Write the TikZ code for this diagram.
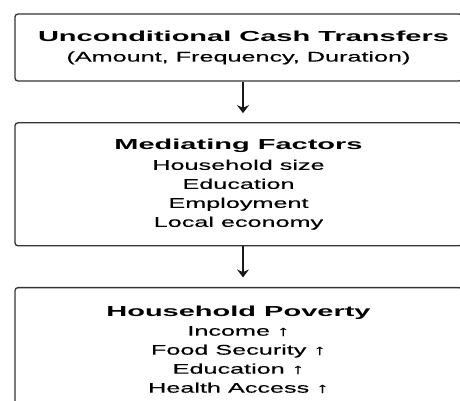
\documentclass[tikz,border=0pt]{standalone}
\usepackage{fontspec}
\setmainfont{Liberation Sans}[FakeStretch=1.8, FakeBold=0.3]
\newfontfamily\headfont{Liberation Sans}[FakeStretch=2.0]
\usetikzlibrary{positioning, arrows.meta}

\begin{document}
\begin{tikzpicture}[x=1pt,y=1pt,node distance=40.5pt,
    block/.style={draw=black!80, line width=1.3pt, rounded corners=3pt,
      minimum width=447pt, inner sep=0pt, align=center,
      font=\fontsize{14}{19}\selectfont},
    >={Stealth[length=8pt,width=12pt]}]

    \useasboundingbox (0,0) rectangle (460,-401);
    \clip (0,0) rectangle (460,-401);

      \node[block, minimum height=67pt] (ucash) at (238.5,-47.5)
        {\hspace*{10pt}{\headfont\bfseries\fontsize{14.5}{19}\selectfont Unconditional Cash Transfers}\\[1.5pt]
         (Amount, Frequency, Duration)};
      \node[block, minimum height=123pt] (mediat) [below=of ucash]
        {{\headfont\bfseries\fontsize{14.5}{19}\selectfont Mediating Factors}\\[1.5pt]
         Household size\\ Education\\ Employment\\ Local economy};
      \node[block, minimum height=124pt] (poverty) [below=of mediat]
        {{\headfont\bfseries\fontsize{14.5}{19}\selectfont Household Poverty}\\
         Income ↑\\ Food Security ↑\\ Education ↑\\ Health Access ↑};

      % connectors sit a little right of the box centres
      \path[->, black!90, line width=1.2pt]
                ([xshift=4.5pt]ucash.south) edge [shorten >=9pt]   ([xshift=4.5pt]mediat.north)
                ([xshift=4.5pt]mediat.south) edge [shorten >=9.5pt] ([xshift=4.5pt]poverty.north);
    \end{tikzpicture}
\end{document}
